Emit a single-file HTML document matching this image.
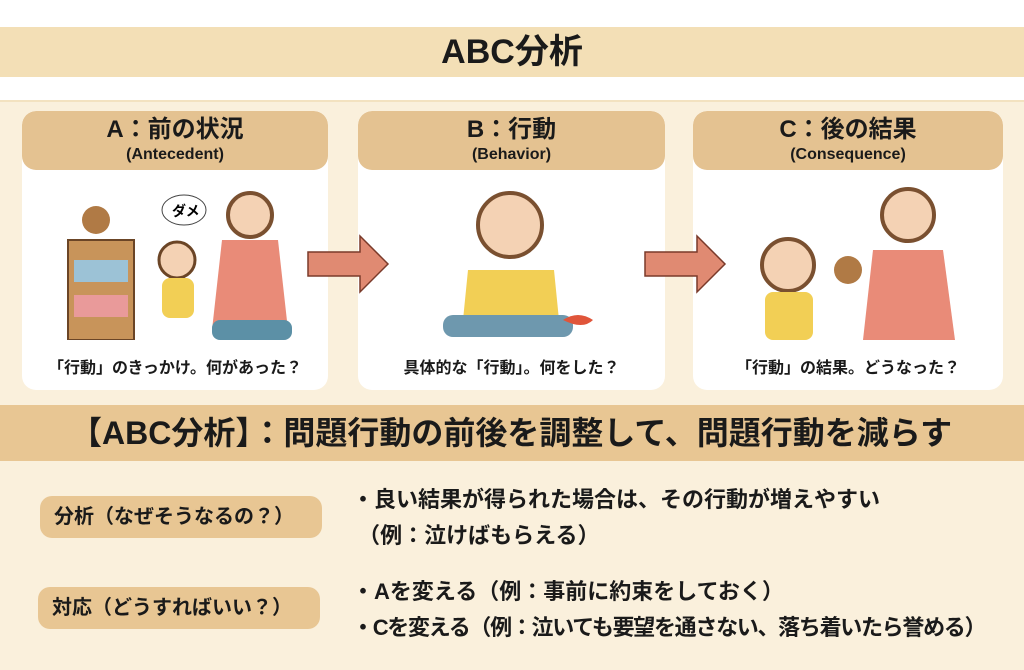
<!DOCTYPE html>
<html><head><meta charset="utf-8"><style>
*{margin:0;padding:0;box-sizing:border-box}
body{width:1024px;height:670px;background:#fff;position:relative;overflow:hidden;font-family:"Liberation Sans","Noto Sans CJK JP",sans-serif;color:#1a1a1a}
.abs{position:absolute}
.title{left:0;top:27px;width:1024px;height:50px;background:#f3dfb6;text-align:center;font-size:34px;font-weight:bold;line-height:50px}
.main{left:0;top:100px;width:1024px;height:570px;background:#faf0dc;border-top:2px solid #f3e2c0}
.card{top:111px;height:279px;background:#fff;border-radius:14px;overflow:hidden}
.hd{height:59px;background:#e4c291;border-radius:14px;text-align:center;font-weight:bold}
.hd .a{font-size:24px;line-height:30px;padding-top:4px}
.hd .b{font-size:16px;line-height:20px}
.cap{position:absolute;bottom:12px;width:100%;text-align:center;font-size:16px;font-weight:bold}
.band{left:0;top:405px;width:1024px;height:56px;background:#e8c693;font-size:32px;font-weight:bold;line-height:56px;padding-left:70px}
.pill{left:40px;width:282px;height:42px;background:#e8c693;border-radius:12px;font-size:20px;font-weight:bold;line-height:42px;padding-left:14px;white-space:nowrap}
.txt{left:352px;font-size:22px;font-weight:bold;line-height:36px;white-space:nowrap}
</style></head><body>
<div class="abs title">ABC分析</div>
<div class="abs main"></div>

<div class="abs card" style="left:22px;width:306px">
 <div class="hd"><div class="a">A：前の状況</div><div class="b">(Antecedent)</div></div>
 <svg class="abs" style="left:0;top:59px" width="306" height="170">
  <rect x="46" y="70" width="66" height="100" fill="#c8945a" stroke="#6b4526" stroke-width="2"/>
  <rect x="52" y="90" width="54" height="22" fill="#9cc2d6"/><rect x="52" y="125" width="54" height="22" fill="#e99a9a"/>
  <circle cx="74" cy="50" r="14" fill="#b07a45"/>
  <ellipse cx="162" cy="40" rx="22" ry="15" fill="#fff" stroke="#444"/><text x="150" y="46" font-size="14" font-weight="bold" font-family="Noto Sans CJK JP">ダメ</text>
  <circle cx="155" cy="90" r="18" fill="#f4d2b4" stroke="#6b4526" stroke-width="3"/><rect x="140" y="108" width="32" height="40" rx="8" fill="#f2cf55"/>
  <circle cx="228" cy="45" r="22" fill="#f4d2b4" stroke="#7a5030" stroke-width="4"/><path d="M200 70 h56 l10 90 h-76z" fill="#e98b78"/>
  <rect x="190" y="150" width="80" height="20" rx="8" fill="#5c90a6"/>
 </svg>
 <div class="cap">「行動」のきっかけ。何があった？</div>
</div>
<div class="abs card" style="left:358px;width:307px">
 <div class="hd"><div class="a">B：行動</div><div class="b">(Behavior)</div></div>
 <svg class="abs" style="left:0;top:59px" width="307" height="170">
  <circle cx="152" cy="55" r="32" fill="#f4d2b4" stroke="#7a5030" stroke-width="4"/>
  <path d="M110 100 h86 l6 60 h-98z" fill="#f2cf55"/>
  <rect x="85" y="145" width="130" height="22" rx="10" fill="#6e98ae"/>
  <path d="M205 150 q15 -10 30 0 q-10 10 -30 0z" fill="#e0553a"/>
 </svg>
 <div class="cap">具体的な「行動」。何をした？</div>
</div>
<div class="abs card" style="left:693px;width:310px">
 <div class="hd"><div class="a">C：後の結果</div><div class="b">(Consequence)</div></div>
 <svg class="abs" style="left:0;top:59px" width="310" height="170">
  <circle cx="95" cy="95" r="26" fill="#f4d2b4" stroke="#7a5030" stroke-width="4"/>
  <rect x="72" y="122" width="48" height="48" rx="8" fill="#f2cf55"/>
  <circle cx="155" cy="100" r="14" fill="#b07a45"/>
  <circle cx="215" cy="45" r="26" fill="#f4d2b4" stroke="#7a5030" stroke-width="4"/>
  <path d="M180 80 h70 l12 90 h-92z" fill="#e98b78"/>
 </svg>
 <div class="cap">「行動」の結果。どうなった？</div>
</div>

<svg class="abs" style="left:300px;top:230px" width="440" height="70">
 <path d="M8 22 h52 v-16 l28 28 l-28 28 v-16 h-52z" fill="#e08a72" stroke="#7a3a2a" stroke-width="1.5"/>
 <path d="M345 22 h52 v-16 l28 28 l-28 28 v-16 h-52z" fill="#e08a72" stroke="#7a3a2a" stroke-width="1.5"/>
</svg>

<div class="abs band">【ABC分析】：問題行動の前後を調整して、問題行動を減らす</div>

<div class="abs pill" style="top:496px">分析（なぜそうなるの？）</div>
<div class="abs pill" style="top:587px;left:38px">対応（どうすればいい？）</div>
<div class="abs txt" style="top:482px">・良い結果が得られた場合は、その行動が増えやすい<br>&nbsp;（例：泣けばもらえる）</div>
<div class="abs txt" style="top:574px">・Aを変える（例：事前に約束をしておく）<br><span style="letter-spacing:-1.3px">・Cを変える（例：泣いても要望を通さない、落ち着いたら誉める）</span></div>
</body></html>
